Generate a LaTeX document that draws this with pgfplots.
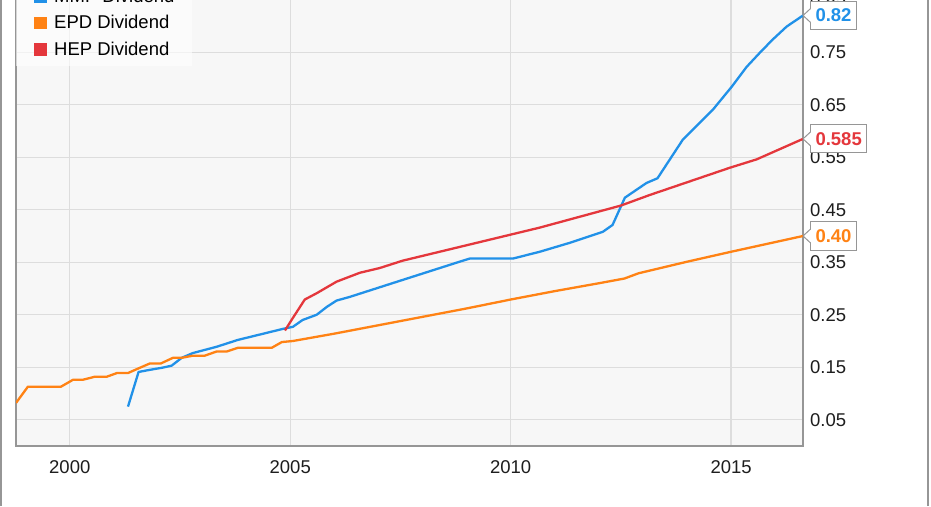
\documentclass[border=0pt]{standalone}
\usepackage{pgfplots}
\pgfplotsset{compat=1.18}
\usepackage{fontspec}
\setmainfont{Liberation Sans}
\definecolor{mmpc}{RGB}{33,145,232}
\definecolor{epdc}{RGB}{255,130,20}
\definecolor{hepc}{RGB}{228,55,60}
\definecolor{bgc}{RGB}{247,247,247}
\definecolor{gridc}{RGB}{221,221,221}
\definecolor{axc}{RGB}{150,150,150}
\definecolor{txtc}{RGB}{30,30,30}
\newcommand{\chartfont}{\fontsize{18.5}{22}\selectfont}
\begin{document}
\begin{tikzpicture}
\useasboundingbox (0pt,0pt) rectangle (931pt,506pt);
\clip (0pt,0pt) rectangle (931pt,506pt);
\fill[white] (0pt,0pt) rectangle (931pt,506pt);
\begin{axis}[
  at={(16pt,60pt)}, anchor=south west,
  scale only axis, width=787pt, height=472.5pt,
  xmin=1998.78, xmax=2016.63, ymin=0, ymax=0.9,
  axis background/.style={fill=bgc},
  xtick={2000,2005,2010,2015},
  xticklabels={2000,2005,2010,2015},
  ytick={0.05,0.15,0.25,0.35,0.45,0.55,0.65,0.75,0.85},
  yticklabels={0.05,0.15,0.25,0.35,0.45,0.55,0.65,0.75,0.85},
  yticklabel pos=right,
  major tick length=0pt,
  grid=major,
  grid style={gridc, line width=1.3pt},
  axis line style={axc, line width=1.3pt},
  tick label style={font=\chartfont, text=txtc},
  xticklabel style={anchor=north, inner sep=0pt, yshift=-14pt},
  yticklabel style={anchor=west, inner sep=0pt, xshift=7pt},
  /pgf/number format/assume math mode=true,
  legend style={at={(0,1)}, anchor=north west, yshift=-4.5pt, draw=none, fill=white,
    fill opacity=0.6, text opacity=1, inner xsep=18pt, inner ysep=7pt,
    row sep=5.5pt, font=\chartfont,
    nodes={inner sep=0pt, text height=14pt, text depth=4pt}},
  legend cell align=left,
  legend image code/.code={\path[draw=none, fill=none] (0pt,0pt) rectangle (20pt,12pt); \fill[#1, draw=none, fill opacity=1, overlay] (0pt,-5.5pt) rectangle (12.5pt,7pt);},
]
\addplot[color=mmpc, line width=2.3pt, line join=round] coordinates {
(2001.32,0.075) (2001.56,0.141) (2001.81,0.145) (2002.09,0.149) (2002.31,0.153)
(2002.54,0.168) (2002.79,0.177) (2003.33,0.189) (2003.81,0.202) (2004.83,0.223)
(2005.06,0.227) (2005.28,0.240) (2005.60,0.250) (2005.83,0.265) (2006.05,0.277)
(2006.35,0.284) (2007.50,0.315) (2008.84,0.351) (2009.07,0.357) (2010.05,0.357)
(2010.66,0.370) (2011.34,0.387) (2012.09,0.408) (2012.31,0.421) (2012.59,0.473)
(2013.08,0.501) (2013.33,0.510) (2013.90,0.583) (2014.58,0.640) (2015.01,0.684)
(2015.35,0.722) (2015.65,0.749) (2015.94,0.774) (2016.26,0.799) (2016.63,0.820)
};
\addlegendentry{MMP Dividend}
\addplot[color=epdc, line width=2.3pt, line join=round] coordinates {
(1998.78,0.082) (1999.05,0.113) (1999.80,0.113) (2000.07,0.126) (2000.29,0.126)
(2000.57,0.132) (2000.84,0.132) (2001.07,0.139) (2001.32,0.139) (2001.59,0.149)
(2001.81,0.157) (2002.06,0.157) (2002.34,0.168) (2002.54,0.168) (2002.79,0.172)
(2003.06,0.172) (2003.33,0.180) (2003.56,0.180) (2003.81,0.187) (2004.58,0.187)
(2004.81,0.198) (2005.06,0.200) (2006,0.214) (2007,0.230) (2008,0.246)
(2009,0.262) (2010,0.279) (2011,0.295) (2012,0.310) (2012.58,0.319)
(2012.90,0.329) (2014,0.351) (2015,0.370) (2016.63,0.400)
};
\addlegendentry{EPD Dividend}
\addplot[color=hepc, line width=2.3pt, line join=round] coordinates {
(2004.88,0.220) (2005.06,0.244) (2005.33,0.279) (2005.60,0.291) (2006.05,0.313)
(2006.58,0.330) (2007.03,0.339) (2007.55,0.353) (2010.66,0.416) (2012.50,0.458)
(2013.15,0.478) (2014.06,0.504) (2014.97,0.530) (2015.58,0.546) (2016.63,0.585)
};
\addlegendentry{HEP Dividend}
\coordinate (mmpend) at (axis cs:2016.63,0.82);
\coordinate (epdend) at (axis cs:2016.63,0.40);
\coordinate (hepend) at (axis cs:2016.63,0.585);
\end{axis}
\tikzset{lab/.style={anchor=west, draw=axc, fill=white, line width=1pt,
  inner xsep=5pt, inner ysep=0pt, minimum height=28pt, text height=13pt, text depth=0pt,
  font=\bfseries\chartfont}}
\foreach \c/\v/\col in {mmpend/0.82/mmpc, hepend/0.585/hepc, epdend/0.40/epdc}{
  \node[lab, text=\col] at ([xshift=7pt]\c) {\v};
  \fill[white] ([xshift=7.8pt,yshift=7pt]\c) -- (\c) -- ([xshift=7.8pt,yshift=-7pt]\c) -- cycle;
  \draw[axc, line width=1pt] ([xshift=7.6pt,yshift=7pt]\c) -- (\c) -- ([xshift=7.6pt,yshift=-7pt]\c);
}
\draw[axc, line width=1.5pt] (1pt,0pt) -- (1pt,506pt);
\draw[axc, line width=1.5pt] (928pt,0pt) -- (928pt,506pt);
\end{tikzpicture}
\end{document}
